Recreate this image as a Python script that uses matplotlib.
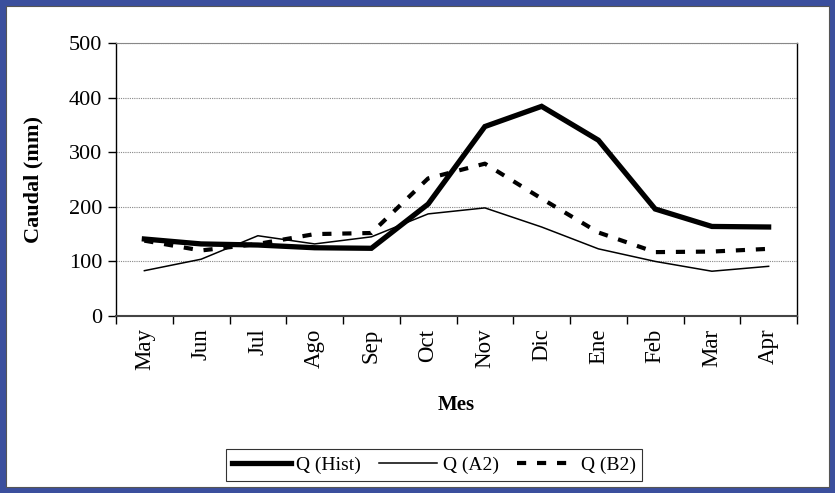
import matplotlib.pyplot as plt
from matplotlib.patches import Rectangle

meses = ["May", "Jun", "Jul", "Ago", "Sep", "Oct", "Nov", "Dic", "Ene", "Feb", "Mar", "Apr"]
q_hist = [141, 132, 130, 125, 124, 205, 347, 384, 322, 196, 164, 163]
q_a2 = [83, 104, 147, 132, 145, 187, 198, 163, 123, 100, 82, 91]
q_b2 = [138, 120, 132, 150, 152, 252, 279, 215, 153, 117, 118, 123]

plt.rcParams['font.family'] = ['Liberation Serif', 'DejaVu Serif']

fig = plt.figure(figsize=(8.35, 4.93), dpi=100)
fig.patch.set_facecolor("#3B4F9D")
# white panel inside the blue frame
fig.patches.append(Rectangle((6/835, 6/493), 823/835, 481/493, transform=fig.transFigure,
                             facecolor="white", edgecolor="#555555", linewidth=0.8, zorder=-5))

ax = fig.add_axes([116/835, 1-316/493, 681/835, 273/493])
ax.set_zorder(2)
x = list(range(len(meses)))

ax.plot(x, q_hist, color="black", linewidth=3.8, solid_joinstyle="miter", label="Q (Hist)", zorder=3)
ax.plot(x, q_a2, color="black", linewidth=1.1, label="Q (A2)", zorder=3)
ax.plot(x, q_b2, color="black", linewidth=3.0, dashes=(2.2, 2.6), label="Q (B2)", zorder=3)

ax.set_ylim(0, 500)
ax.set_xlim(-0.5, 11.5)
ax.set_yticks([0, 100, 200, 300, 400, 500])
ax.yaxis.grid(True, color="#888888", linestyle=(0, (1, 1)), linewidth=0.8)
ax.set_axisbelow(True)

ax.set_xticks([i - 0.5 for i in range(13)])
ax.set_xticklabels([])
ax.set_xticks(x, minor=True)
ax.set_xticklabels(meses, minor=True, rotation=90)
ax.tick_params(axis="x", which="minor", length=0, pad=9, labelsize=16.5)
ax.tick_params(axis="x", which="major", length=6, width=1, direction="out")
ax.tick_params(axis="y", length=6, width=1, direction="out", labelsize=16, pad=4)

ax.spines["top"].set_color("#888888")
ax.spines["top"].set_linestyle((0, (1, 1)))
ax.spines["top"].set_linewidth(0.8)
ax.spines["bottom"].set_color("#444444")
ax.spines["bottom"].set_linewidth(1.5)
ax.spines["left"].set_linewidth(1.0)
ax.spines["right"].set_linewidth(1.0)

ax.set_ylabel("Caudal (mm)", fontsize=16, fontweight="bold", labelpad=18)
ax.set_xlabel("Mes", fontsize=15, fontweight="bold", labelpad=18)

leg = fig.legend(loc="center", bbox_to_anchor=(434/835, 1-465/493), ncol=3, fontsize=14,
                 frameon=True, fancybox=False, handlelength=3.0, columnspacing=0.9,
                 handletextpad=0.3, borderpad=0.35)
leg.get_frame().set_edgecolor("black")
leg.get_frame().set_linewidth(0.8)

fig.savefig("out.png", dpi=100, facecolor=fig.get_facecolor())
